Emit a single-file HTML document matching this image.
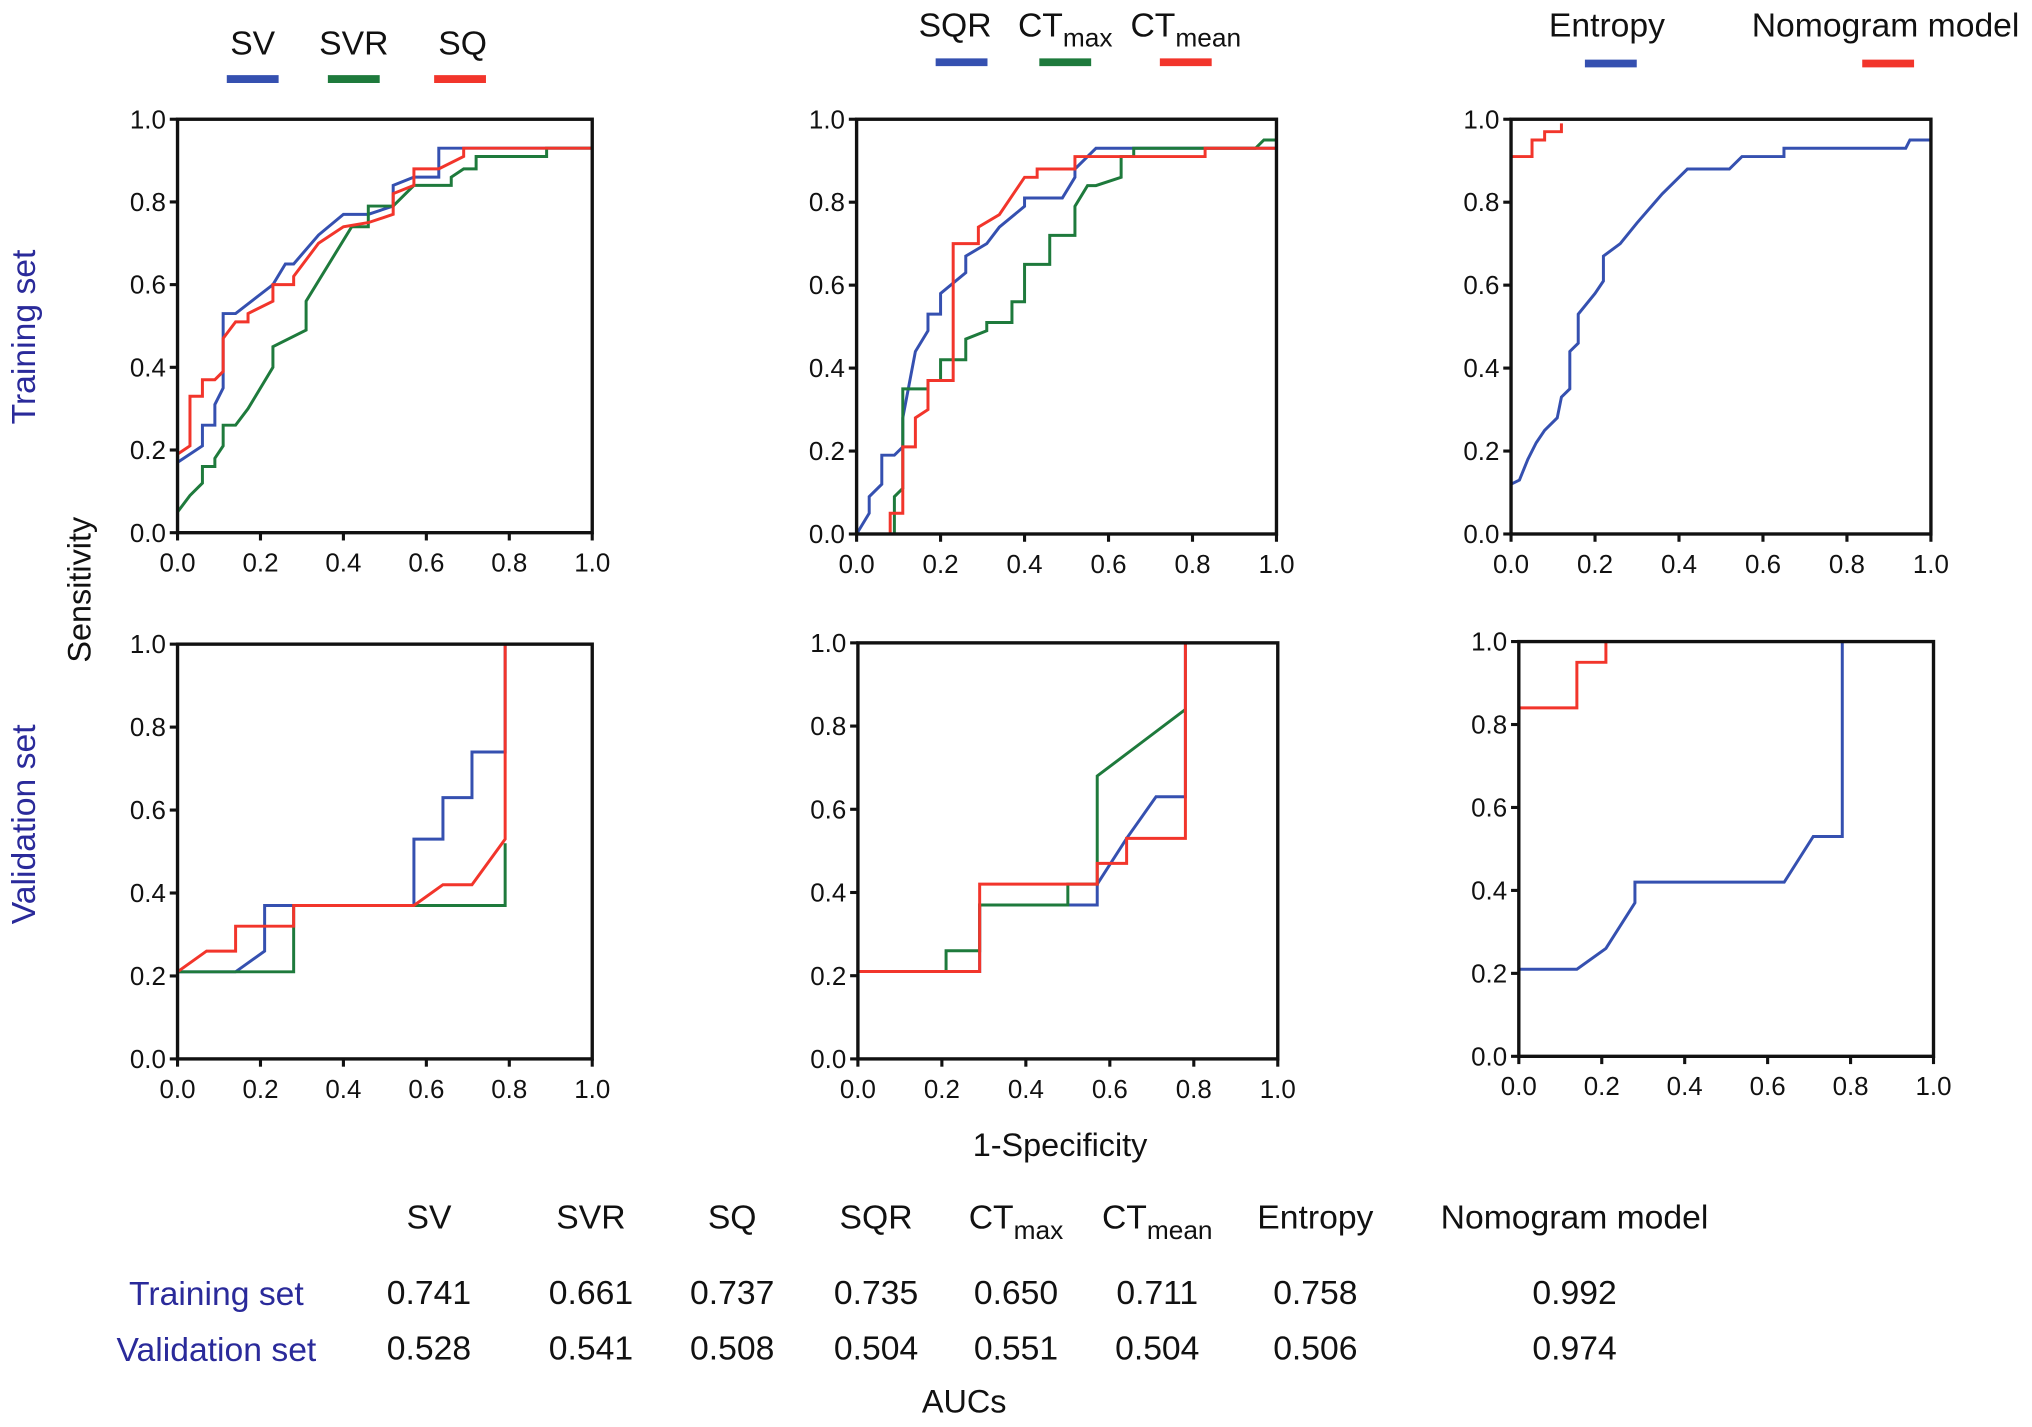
<!DOCTYPE html>
<html><head><meta charset="utf-8"><style>
html,body{margin:0;padding:0;background:#fff}
svg{display:block}
text{font-family:"Liberation Sans",Arial,sans-serif}
</style></head><body>
<svg id="fig" width="2032" height="1427" viewBox="0 0 1568 1101" preserveAspectRatio="none" xmlns="http://www.w3.org/2000/svg"></svg>
<script>
const ticks=[0,0.2,0.4,0.6,0.8,1.0];
const tickLabels=["0.0","0.2","0.4","0.6","0.8","1.0"];
// series data: [fpr, tpr] pairs
const svTrain=[[0,0.17],[0.06,0.21],[0.06,0.26],[0.09,0.26],[0.09,0.31],[0.11,0.35],[0.11,0.53],[0.14,0.53],[0.23,0.60],[0.26,0.65],[0.28,0.65],[0.34,0.72],[0.40,0.77],[0.46,0.77],[0.52,0.79],[0.52,0.84],[0.57,0.86],[0.63,0.86],[0.63,0.93],[0.68,0.93],[1,0.93]];
const sqTrain=[[0,0.19],[0.03,0.21],[0.03,0.33],[0.06,0.33],[0.06,0.37],[0.09,0.37],[0.11,0.39],[0.11,0.47],[0.14,0.51],[0.17,0.51],[0.17,0.53],[0.23,0.56],[0.23,0.60],[0.28,0.60],[0.28,0.62],[0.34,0.70],[0.40,0.74],[0.46,0.75],[0.52,0.77],[0.52,0.82],[0.57,0.84],[0.57,0.88],[0.63,0.88],[0.69,0.91],[0.69,0.93],[1,0.93]];
const svrTrain=[[0,0.05],[0.03,0.09],[0.06,0.12],[0.06,0.16],[0.09,0.16],[0.09,0.18],[0.11,0.21],[0.11,0.26],[0.14,0.26],[0.17,0.30],[0.23,0.40],[0.23,0.45],[0.31,0.49],[0.31,0.56],[0.42,0.74],[0.46,0.74],[0.46,0.79],[0.52,0.79],[0.57,0.84],[0.66,0.84],[0.66,0.86],[0.69,0.88],[0.72,0.88],[0.72,0.91],[0.89,0.91],[0.89,0.93],[1,0.93]];
const sqrTrain=[[0,0],[0.03,0.05],[0.03,0.09],[0.06,0.12],[0.06,0.19],[0.09,0.19],[0.11,0.21],[0.11,0.28],[0.14,0.44],[0.17,0.49],[0.17,0.53],[0.20,0.53],[0.20,0.58],[0.26,0.63],[0.26,0.67],[0.31,0.70],[0.34,0.74],[0.40,0.79],[0.40,0.81],[0.49,0.81],[0.52,0.86],[0.52,0.88],[0.57,0.93],[1,0.93]];
const ctmeanTrain=[[0.08,0],[0.08,0.05],[0.11,0.05],[0.11,0.21],[0.14,0.21],[0.14,0.28],[0.17,0.30],[0.17,0.37],[0.23,0.37],[0.23,0.70],[0.29,0.70],[0.29,0.74],[0.34,0.77],[0.40,0.86],[0.43,0.86],[0.43,0.88],[0.52,0.88],[0.52,0.91],[0.83,0.91],[0.83,0.93],[1,0.93]];
const ctmaxTrain=[[0.09,0],[0.09,0.09],[0.11,0.11],[0.11,0.35],[0.17,0.35],[0.17,0.37],[0.20,0.37],[0.20,0.42],[0.26,0.42],[0.26,0.47],[0.31,0.49],[0.31,0.51],[0.37,0.51],[0.37,0.56],[0.40,0.56],[0.40,0.65],[0.46,0.65],[0.46,0.72],[0.52,0.72],[0.52,0.79],[0.55,0.84],[0.57,0.84],[0.63,0.86],[0.63,0.91],[0.66,0.91],[0.66,0.93],[0.95,0.93],[0.97,0.95],[1,0.95]];
const entropyTrain=[[0,0.12],[0.02,0.13],[0.04,0.18],[0.06,0.22],[0.08,0.25],[0.11,0.28],[0.12,0.33],[0.14,0.35],[0.14,0.44],[0.16,0.46],[0.16,0.53],[0.20,0.58],[0.22,0.61],[0.22,0.67],[0.26,0.70],[0.30,0.75],[0.36,0.82],[0.42,0.88],[0.52,0.88],[0.55,0.91],[0.65,0.91],[0.65,0.93],[0.94,0.93],[0.95,0.95],[1,0.95]];
const nomoTrain=[[0,0.91],[0.05,0.91],[0.05,0.95],[0.08,0.95],[0.08,0.97],[0.12,0.97],[0.12,0.99]];
const svVal=[[0,0.21],[0.14,0.21],[0.21,0.26],[0.21,0.37],[0.57,0.37],[0.57,0.53],[0.64,0.53],[0.64,0.63],[0.71,0.63],[0.71,0.74],[0.79,0.74],[0.79,1.0]];
const svrVal=[[0,0.21],[0.28,0.21],[0.28,0.37],[0.79,0.37],[0.79,0.52]];
const sqVal=[[0,0.21],[0.07,0.26],[0.14,0.26],[0.14,0.32],[0.28,0.32],[0.28,0.37],[0.57,0.37],[0.64,0.42],[0.71,0.42],[0.79,0.53],[0.79,1.0]];
const sqrVal=[[0,0.21],[0.29,0.21],[0.29,0.37],[0.57,0.37],[0.57,0.42],[0.64,0.53],[0.71,0.63],[0.78,0.63],[0.78,1.0]];
const ctmaxVal=[[0,0.21],[0.21,0.21],[0.21,0.26],[0.29,0.26],[0.29,0.37],[0.50,0.37],[0.50,0.42],[0.57,0.42],[0.57,0.68],[0.78,0.84]];
const ctmeanVal=[[0,0.21],[0.29,0.21],[0.29,0.42],[0.57,0.42],[0.57,0.47],[0.64,0.47],[0.64,0.53],[0.78,0.53],[0.78,1.0]];
const entropyVal=[[0,0.21],[0.14,0.21],[0.21,0.26],[0.28,0.37],[0.28,0.42],[0.64,0.42],[0.71,0.53],[0.78,0.53],[0.78,1.0]];
const nomoVal=[[0,0.84],[0.14,0.84],[0.14,0.95],[0.21,0.95],[0.21,1.0]];
const tableCols=["SV","SVR","SQ","SQR","CTmax","CTmean","Entropy","Nomogram model"];
const aucTrain=["0.741","0.661","0.737","0.735","0.650","0.711","0.758","0.992"];
const aucVal=["0.528","0.541","0.508","0.504","0.551","0.504","0.506","0.974"];

const NS="http://www.w3.org/2000/svg";
const svg=document.getElementById('fig');
const BLUE="#3550b0",GREEN="#1e7a3c",RED="#f2352b",NAVY="#2a2a9a";
function mk(tag,attrs,parent){const e=document.createElementNS(NS,tag);for(const k in attrs)e.setAttribute(k,attrs[k]);(parent||svg).appendChild(e);return e;}
function txt(x,y,s,size,opts,parent){const t=mk('text',Object.assign({x:x,y:y,'font-size':size,fill:'#111'},opts||{}),parent);t.textContent=s;return t;}

const panels=[
 {name:'training-sv-svr-sq',x0:137,x1:457,y0:411,y1:92,series:[[svTrain,BLUE,'sv'],[svrTrain,GREEN,'svr'],[sqTrain,RED,'sq']]},
 {name:'training-sqr-ct',x0:661,x1:985,y0:412,y1:92,series:[[sqrTrain,BLUE,'sqr'],[ctmaxTrain,GREEN,'ctmax'],[ctmeanTrain,RED,'ctmean']]},
 {name:'training-entropy-nomogram',x0:1166,x1:1490,y0:412,y1:92,series:[[entropyTrain,BLUE,'entropy'],[nomoTrain,RED,'nomogram']]},
 {name:'validation-sv-svr-sq',x0:137,x1:457,y0:817,y1:497,series:[[svVal,BLUE,'sv'],[svrVal,GREEN,'svr'],[sqVal,RED,'sq']]},
 {name:'validation-sqr-ct',x0:662,x1:986,y0:817,y1:496,series:[[sqrVal,BLUE,'sqr'],[ctmaxVal,GREEN,'ctmax'],[ctmeanVal,RED,'ctmean']]},
 {name:'validation-entropy-nomogram',x0:1172,x1:1492,y0:815,y1:495,series:[[entropyVal,BLUE,'entropy'],[nomoVal,RED,'nomogram']]}
];
panels.forEach(p=>{
 const g=mk('g',{});
 
 
 const sx=v=>p.x0+v*(p.x1-p.x0), sy=v=>p.y0+v*(p.y1-p.y0);
 p.series.forEach(s=>{
  const pl=mk('polyline',{points:s[0].map(d=>sx(d[0])+','+sy(d[1])).join(' '),fill:'none',stroke:s[1],'stroke-width':2.3,'stroke-linejoin':'miter'},g);
  
  
 });
 const fr=mk('rect',{x:p.x0,y:p.y1,width:p.x1-p.x0,height:p.y0-p.y1,fill:'none',stroke:'#111','stroke-width':2.6},g);
 
 
 ticks.forEach((t,i)=>{
  mk('line',{x1:sx(t),x2:sx(t),y1:p.y0,y2:p.y0+6,stroke:'#111','stroke-width':2.4},g);
  mk('line',{x1:p.x0-6,x2:p.x0,y1:sy(t),y2:sy(t),stroke:'#111','stroke-width':2.4},g);
  const xl=txt(sx(t),p.y0+30,tickLabels[i],20,{'text-anchor':'middle'},g);
  
  
  const yl=txt(p.x0-9,sy(t)+7,tickLabels[i],20,{'text-anchor':'end'},g);
  
  
 });
});

// legends
const legends=[
 {label:'SV',x:195,y:42,bx:195,by:61,c:BLUE},
 {label:'SVR',x:273,y:42,bx:273,by:61,c:GREEN},
 {label:'SQ',x:357,y:42,bx:355,by:61,c:RED},
 {label:'SQR',x:737,y:28,bx:742,by:48,c:BLUE},
 {label:'CTmax',x:822,y:28,bx:822,by:48,c:GREEN},
 {label:'CTmean',x:915,y:28,bx:915,by:48,c:RED},
 {label:'Entropy',x:1240,y:28,bx:1243,by:49,c:BLUE},
 {label:'Nomogram model',x:1455,y:28,bx:1457,by:49,c:RED}
];
function subLabel(x,y,s,size,opts){
 const t=txt(x,y,'',size,opts);
 if(s.startsWith('CT')){
  const a=document.createElementNS(NS,'tspan');a.textContent='CT';t.appendChild(a);
  const b=document.createElementNS(NS,'tspan');b.setAttribute('font-size',size*0.78);b.setAttribute('dy',size*0.3);b.textContent=s.slice(2);t.appendChild(b);
 } else t.textContent=s;
 return t;
}
legends.forEach(l=>{
 const t=subLabel(l.x,l.y,l.label,26,{'text-anchor':'middle'});
 
 
 const r=mk('line',{x1:l.bx-20,x2:l.bx+20,y1:l.by,y2:l.by,stroke:l.c,'stroke-width':6});
 
 
});

// axis titles
let t;
t=txt(0,0,'Training set',26,{fill:NAVY,'text-anchor':'middle',transform:'translate(27,260) rotate(-90)'});

t=txt(0,0,'Validation set',26,{fill:NAVY,'text-anchor':'middle',transform:'translate(27,636) rotate(-90)'});

t=txt(0,0,'Sensitivity',25,{'text-anchor':'middle',transform:'translate(70,455) rotate(-90)'});

t=txt(818,892,'1-Specificity',25,{'text-anchor':'middle'});


// AUC table
const colX=[331,456,565,676,784,893,1015,1215];
tableCols.forEach((c,i)=>{
 const h=subLabel(colX[i],948,c,26,{'text-anchor':'middle'});
 
 
 const a=txt(colX[i],1006,aucTrain[i],26,{'text-anchor':'middle'});
 
 
 const b=txt(colX[i],1049,aucVal[i],26,{'text-anchor':'middle'});
 
 
});
t=txt(167,1007,'Training set',26,{fill:NAVY,'text-anchor':'middle'});

t=txt(167,1050,'Validation set',26,{fill:NAVY,'text-anchor':'middle'});

t=txt(744,1090,'AUCs',25,{'text-anchor':'middle'});

</script>
</body></html>
